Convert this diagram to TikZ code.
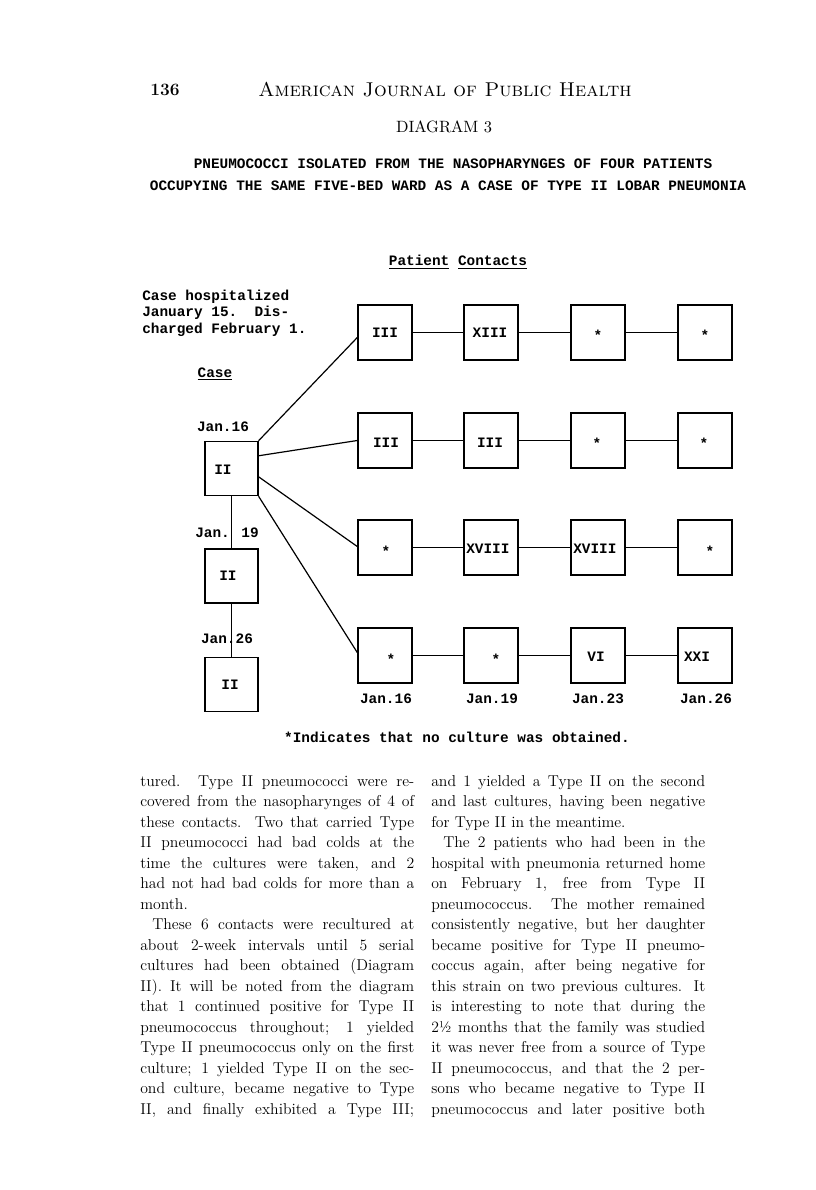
\documentclass[tikz,border=0pt]{standalone}
\usepackage{fontspec}
\usetikzlibrary{calc}
\newfontfamily\tw{Liberation Mono}
\newcommand{\jl}[1]{\makebox[205.5pt][s]{#1}}
\begin{document}
\begin{tikzpicture}[x=0.75pt,y=-0.75pt,
  cbox/.style={draw,line width=1.1pt,minimum width=40.5pt,minimum height=41.25pt,inner sep=0pt},
  ccase/.style={draw,line width=1.1pt,minimum width=39.5pt,minimum height=40.5pt,inner sep=0pt},
  lab/.style={font=\tw\bfseries\fontsize{10.8}{13}\selectfont,inner sep=0pt},
  conn/.style={line width=0.9pt},
  body/.style={font=\fontsize{11.8}{15}\selectfont,inner sep=0pt,anchor=base west}]
\fill[white] (0,0) rectangle (816,1190);
\useasboundingbox (0,0) rectangle (816,1190);

% header
\node[inner sep=0pt,font=\bfseries\fontsize{13}{15}\selectfont] (pg) at (165,90) {136};
\node[inner sep=0pt] (jr) at (445,90) {\resizebox{280pt}{!}{\textsc{American Journal of Public Health}}};
\node[inner sep=0pt] (dg) at (444,127) {\resizebox{72pt}{!}{DIAGRAM 3}};
\node[lab] (t1) at (453,164) {PNEUMOCOCCI ISOLATED FROM THE NASOPHARYNGES OF FOUR PATIENTS};
\node[lab] (t2) at (448,186) {OCCUPYING THE SAME FIVE-BED WARD AS A CASE OF TYPE II LOBAR PNEUMONIA};

\node[lab] (pc) at (458,262) {\underline{Patient} \underline{Contacts}};
\node[lab,anchor=west] (n1) at (142,297) {Case hospitalized};
\node[lab,anchor=west] (n2) at (142,313) {January 15.\ \ Dis-};
\node[lab,anchor=west] (n3) at (142,330) {charged February 1.};
\node[lab] (cs) at (215,374) {\underline{Case}};

% case boxes
\node[ccase] (c1) at (231.5,468.5) {};
\node[ccase] (c2) at (231.5,576) {};
\node[ccase] (c3) at (231.5,684.5) {};
\node[lab] at (223,470) {II};
\node[lab] at (228,576) {II};
\node[lab] at (230,685) {II};
\node[lab] (d1) at (223,427) {Jan.16};
\node[lab] (d2) at (227,533) {Jan. 19};
\node[lab] (d3) at (227,639) {Jan.26};

% contact boxes
\foreach \r/\y in {1/332.5,2/440.5,3/547.5,4/655.5}{
  \foreach \c/\x in {1/385,2/491,3/598,4/705}{
    \node[cbox] (r\r c\c) at (\x,\y) {};
  }
}
% texts in boxes
\node[lab] at (385,333) {III};
\node[lab] at (490,333) {XIII};
\node[lab] at (598,335) {*};
\node[lab] at (705,335) {*};
\node[lab] at (386,443) {III};
\node[lab] at (490,443) {III};
\node[lab] at (597,443) {*};
\node[lab] at (704,443) {*};
\node[lab] at (386,551) {*};
\node[lab,anchor=west] at (466,549) {XVIII};
\node[lab,anchor=west] at (573,549) {XVIII};
\node[lab] at (710,551) {*};
\node[lab] at (391,659) {*};
\node[lab] at (496,659) {*};
\node[lab] at (596,657) {VI};
\node[lab] at (697,657) {XXI};

% date labels
\node[lab] (b1) at (386,699) {Jan.16};
\node[lab] (b2) at (492,699) {Jan.19};
\node[lab] (b3) at (598,699) {Jan.23};
\node[lab] (b4) at (706,699) {Jan.26};

% connectors in rows
\foreach \r in {1,2,3,4}{
  \draw[conn] (r\r c1.east) -- (r\r c2.west);
  \draw[conn] (r\r c2.east) -- (r\r c3.west);
  \draw[conn] (r\r c3.east) -- (r\r c4.west);
}
% case connectors
\draw[conn] (c1.north east) -- ($(r1c1.west)+(0,5)$);
\draw[conn] ($(c1.north east)+(0,15)$) -- (r2c1.west);
\draw[conn] ($(c1.north east)+(0,36)$) -- ($(r3c1.west)+(0,-1)$);
\draw[conn] (c1.south east) -- ($(r4c1.west)+(0,-3)$);
\draw[conn] (c1.south) -- (c2.north);
\draw[conn] (c2.south) -- (c3.north);

\node[lab] (fn) at (457,737) {*Indicates that no culture was obtained.};

% body text
\foreach \t [count=\i from 0] in {
 {tured.  Type II pneumococci were re-},
 {covered from the nasopharynges of 4 of},
 {these contacts.  Two that carried Type},
 {II pneumococci had bad colds at the},
 {time the cultures were taken, and 2},
 {had not had bad colds for more than a},
 {month.\hfill},
 {\hspace*{9pt}These 6 contacts were recultured at},
 {about 2-week intervals until 5 serial},
 {cultures had been obtained (Diagram},
 {II).  It will be noted from the diagram},
 {that 1 continued positive for Type II},
 {pneumococcus throughout; 1 yielded},
 {Type II pneumococcus only on the first},
 {culture; 1 yielded Type II on the sec-},
 {ond culture, became negative to Type},
 {II, and finally exhibited a Type III;}}{
  \node[body] at (140,786+20.5*\i) {\jl{\t}};
}
\foreach \t [count=\i from 0] in {
 {and 1 yielded a Type II on the second},
 {and last cultures, having been negative},
 {for Type II in the meantime.\hfill},
 {\hspace*{9pt}The 2 patients who had been in the},
 {hospital with pneumonia returned home},
 {on February 1, free from Type II},
 {pneumococcus.  The mother remained},
 {consistently negative, but her daughter},
 {became positive for Type II pneumo-},
 {coccus again, after being negative for},
 {this strain on two previous cultures.  It},
 {is interesting to note that during the},
 {2½ months that the family was studied},
 {it was never free from a source of Type},
 {II pneumococcus, and that the 2 per-},
 {sons who became negative to Type II},
 {pneumococcus and later positive both}}{
  \node[body] at (431,786+20.5*\i) {\jl{\t}};
}
\end{tikzpicture}
\end{document}
